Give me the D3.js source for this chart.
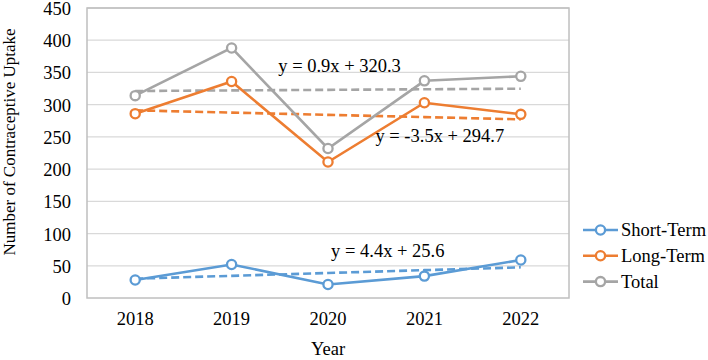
<!DOCTYPE html>
<html>
<head>
<meta charset="utf-8">
<script src="https://cdn.jsdelivr.net/npm/d3@7"></script>
<style>
  body { margin: 0; background: #fff; }
  svg text { font-family: "Liberation Serif", "Times New Roman", Tinos, serif; fill: #000; }
</style>
</head>
<body>
<script>
const width = 708
const height = 360
const serif = '"Liberation Serif", "Times New Roman", Tinos, serif'

// data
const years = ['2018', '2019', '2020', '2021', '2022']
const shortTerm = [28, 52, 21, 34, 59]
const longTerm = [286, 336, 211, 303, 285]
const total = [314, 388, 232, 337, 344]
const yTicks = [0, 50, 100, 150, 200, 250, 300, 350, 400, 450]

const seriesNames = ['Short-Term', 'Long-Term', 'Total']
const seriesValues = [shortTerm, longTerm, total]
const colors = ['#5B9BD5', '#ED7D31', '#A5A5A5']
// where each trend equation sits (in data units: year index, value)
const eqPos = [[3.62, 73], [4.16, 252], [3.12, 360]]

const margin = { left: 87, right: 139, top: 8, bottom: 62 }
const plotW = width - margin.left - margin.right
const plotH = height - margin.top - margin.bottom

let svg = d3.select('body').append('svg')
    .attr('width', width)
    .attr('height', height)
    .attr('font-family', serif)

let g = svg.append('g').attr('transform', `translate(${margin.left},${margin.top})`)

let x = d3.scaleBand().domain(years).range([0, plotW])
let y = d3.scaleLinear().domain([0, 450]).range([plotH, 0])
let cx = i => x(years[i]) + x.bandwidth() / 2

// gridlines
g.selectAll('.grid').data(yTicks.slice(1)).enter().append('line')
    .attr('x1', 0).attr('x2', plotW)
    .attr('y1', d => y(d)).attr('y2', d => y(d))
    .attr('stroke', '#D9D9D9').attr('stroke-width', 1.3)

// frame
g.append('rect')
    .attr('x', 0).attr('y', 0).attr('width', plotW).attr('height', plotH)
    .attr('fill', 'none').attr('stroke', '#BFBFBF').attr('stroke-width', 1.5)

// axes
let yAxis = g.append('g').call(d3.axisLeft(y).tickValues(yTicks).tickSize(0).tickPadding(16))
    .attr('font-family', serif)
yAxis.select('.domain').remove()
yAxis.selectAll('text').style('font-size', '18.5px').attr('dy', '0.35em')

let xAxis = g.append('g').attr('transform', `translate(0,${plotH})`)
    .call(d3.axisBottom(x).tickSize(0).tickPadding(14))
    .attr('font-family', serif)
xAxis.select('.domain').remove()
xAxis.selectAll('text').style('font-size', '18.5px')

// trendlines (least squares on x = 1..5)
function fit(vals) {
    let xs = vals.map((v, i) => i + 1)
    let mx = d3.mean(xs), my = d3.mean(vals)
    let num = d3.sum(xs, (xv, i) => (xv - mx) * (vals[i] - my))
    let den = d3.sum(xs, xv => (xv - mx) * (xv - mx))
    let slope = num / den
    return { slope: slope, intercept: my - slope * mx }
}

let line = d3.line().x((d, i) => cx(i)).y(d => y(d))

seriesValues.forEach((vals, s) => {
    let f = fit(vals)
    let trend = vals.map((v, i) => f.intercept + f.slope * (i + 1))
    g.append('path')
        .attr('d', line(trend))
        .attr('fill', 'none')
        .attr('stroke', colors[s])
        .attr('stroke-width', 2.6)
        .attr('stroke-dasharray', '8,4')
})

seriesValues.forEach((vals, s) => {
    g.append('path')
        .attr('d', line(vals))
        .attr('fill', 'none')
        .attr('stroke', colors[s])
        .attr('stroke-width', 2.6)
    g.selectAll('.pt' + s).data(vals).enter().append('circle')
        .attr('cx', (d, i) => cx(i))
        .attr('cy', d => y(d))
        .attr('r', 4.6)
        .attr('fill', '#fff')
        .attr('stroke', colors[s])
        .attr('stroke-width', 2.3)
})

// equations
seriesValues.forEach((vals, s) => {
    let f = fit(vals)
    let sign = f.intercept >= 0 ? '+' : '-'
    let label = 'y = ' + f.slope.toFixed(1) + 'x ' + sign + ' ' + Math.abs(f.intercept).toFixed(1)
    let px = x.bandwidth() / 2 + (eqPos[s][0] - 1) * x.step()
    g.append('text')
        .attr('x', px)
        .attr('y', y(eqPos[s][1]))
        .attr('dy', '0.35em')
        .attr('text-anchor', 'middle')
        .style('font-size', '18.5px')
        .text(label)
})

// axis titles
svg.append('text')
    .attr('transform', `translate(15,${margin.top + plotH / 2 - 11}) rotate(-90)`)
    .attr('text-anchor', 'middle')
    .style('font-size', '17px')
    .text('Number of Contraceptive Uptake')

svg.append('text')
    .attr('x', margin.left + plotW / 2)
    .attr('y', 355)
    .attr('text-anchor', 'middle')
    .style('font-size', '18.5px')
    .text('Year')

// legend
let legend = svg.append('g').attr('transform', 'translate(583,230)')
seriesNames.forEach((name, s) => {
    let row = legend.append('g').attr('transform', `translate(0,${s * 25.8})`)
    row.append('line').attr('x1', 0).attr('x2', 35).attr('y1', 0).attr('y2', 0)
        .attr('stroke', colors[s]).attr('stroke-width', 2.6)
    row.append('circle').attr('cx', 17.5).attr('cy', 0).attr('r', 4.6)
        .attr('fill', '#fff').attr('stroke', colors[s]).attr('stroke-width', 2.3)
    row.append('text').attr('x', 38).attr('y', 0).attr('dy', '0.35em')
        .style('font-size', '18.5px').text(name)
})
</script>
</body>
</html>
